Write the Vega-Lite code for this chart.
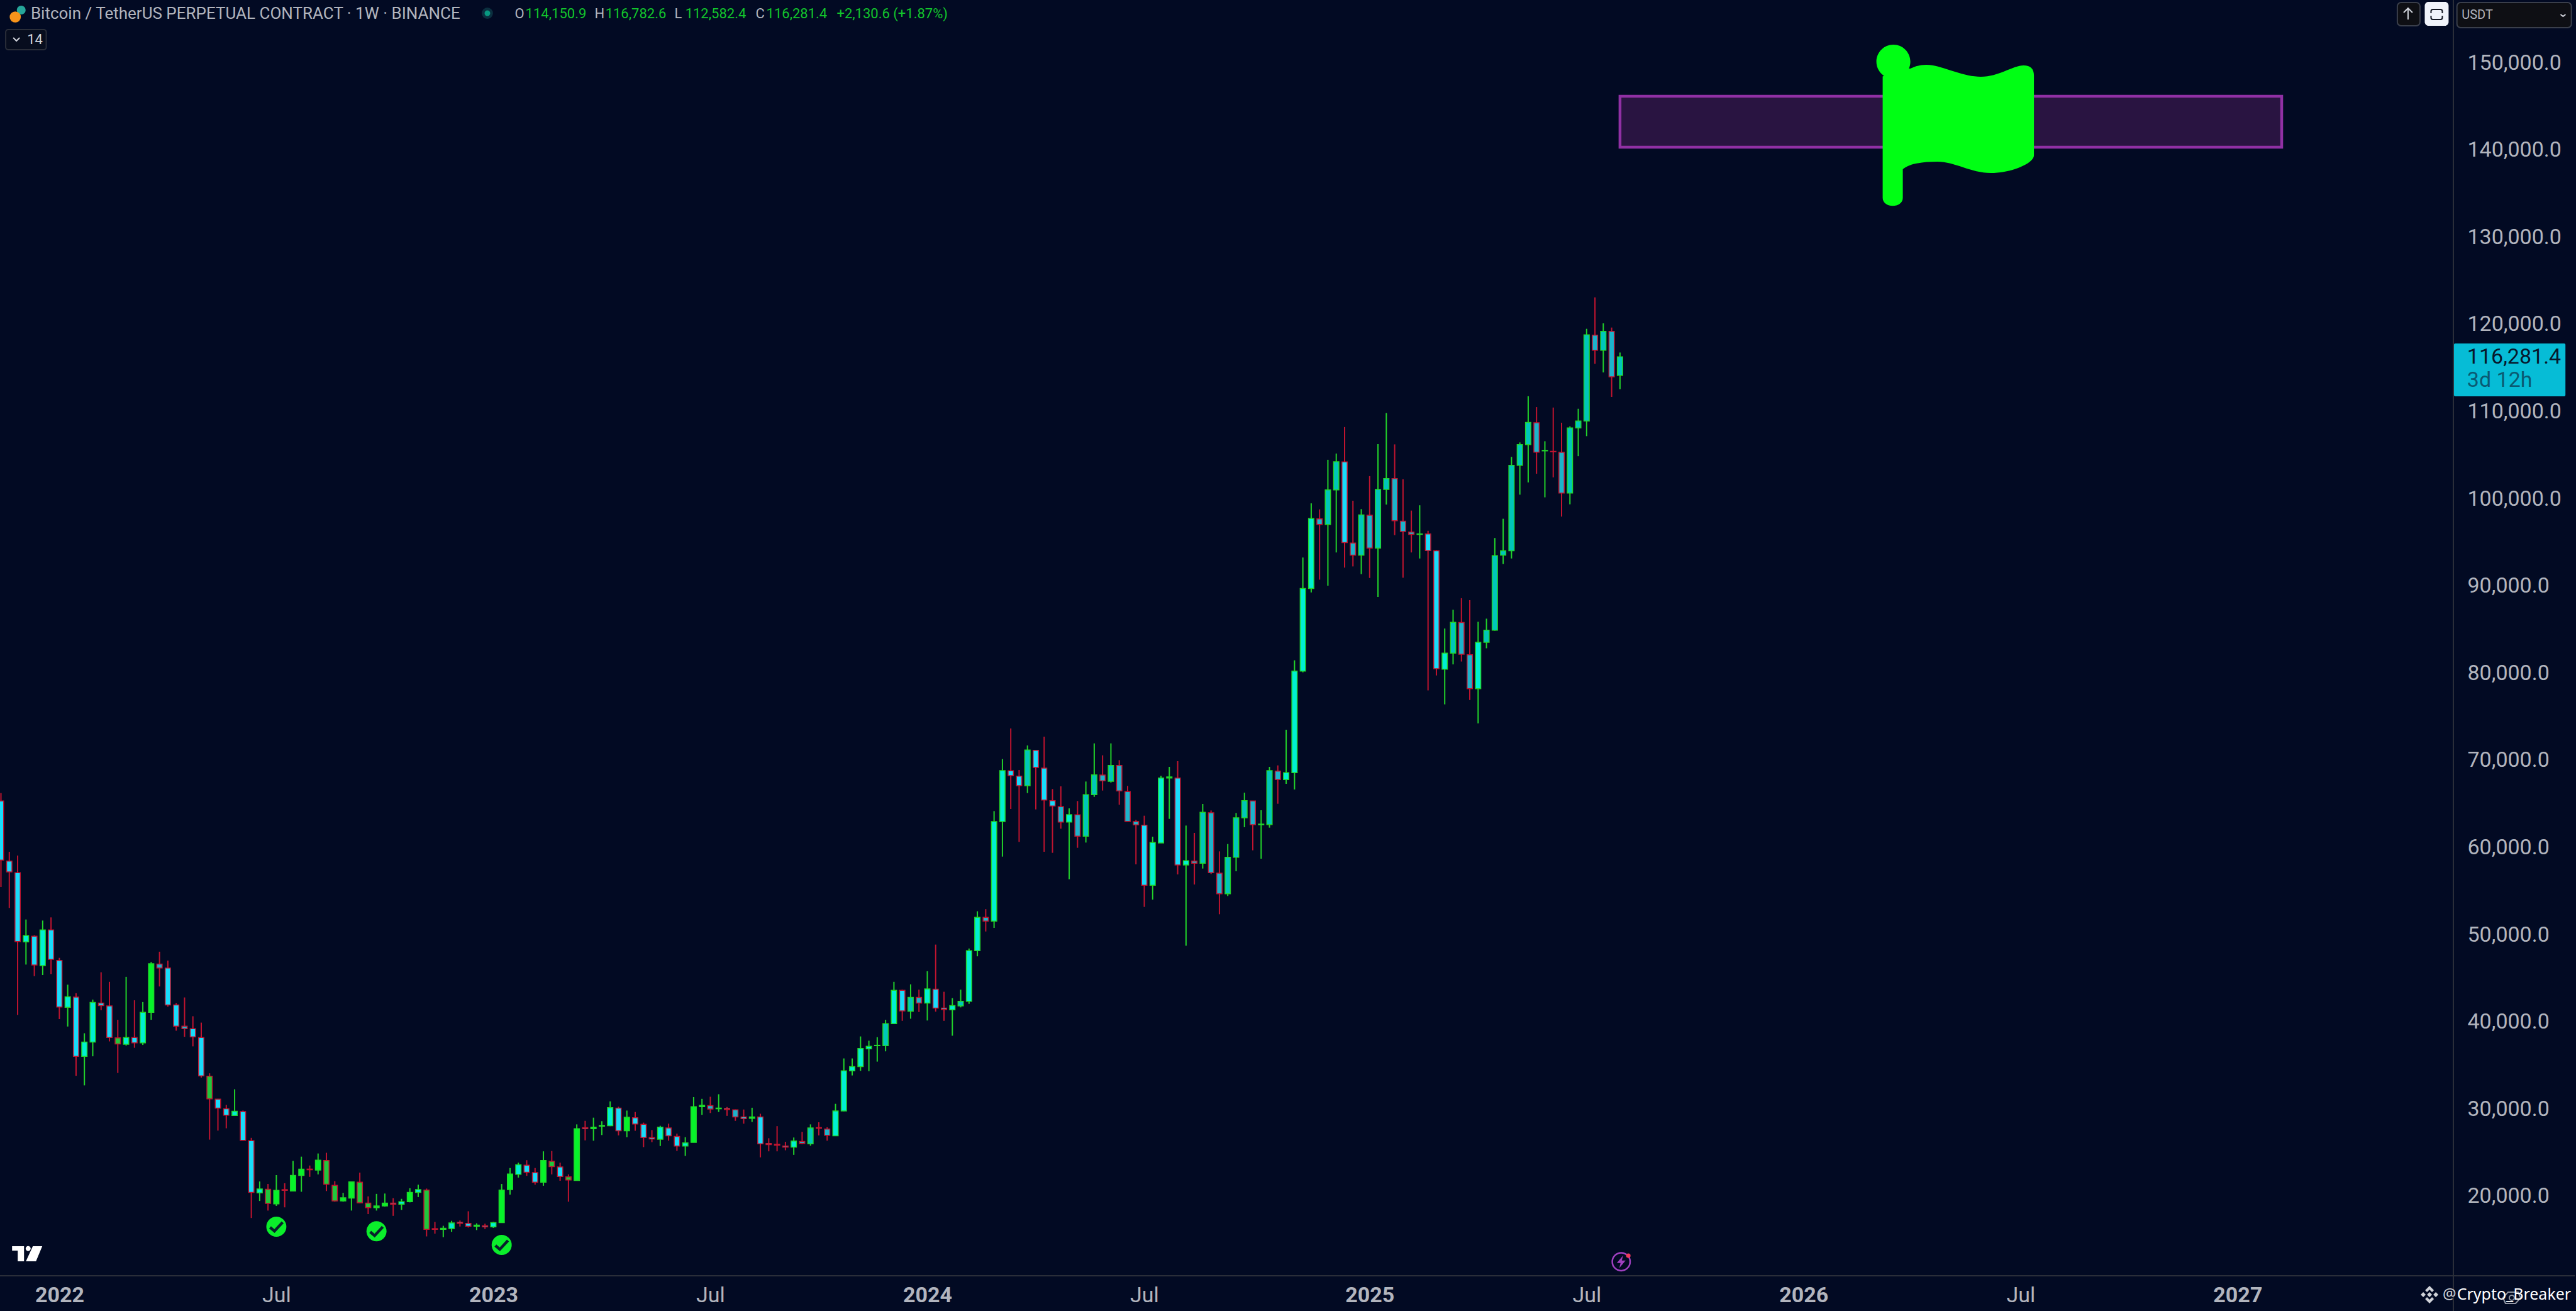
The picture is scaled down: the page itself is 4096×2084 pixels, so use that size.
{
  "$schema": "https://vega.github.io/schema/vega-lite/v6.json",
  "width": 3901,
  "height": 2028,
  "autosize": {"type": "none"},
  "padding": {"left": 0, "top": 0, "right": 195, "bottom": 56},
  "background": "#020a23",
  "config": {
    "view": {"stroke": null},
    "text": {"font": "Roboto", "align": "left", "baseline": "middle"},
    "axisY": {
      "orient": "right",
      "format": ",.1f",
      "labelFont": "Roboto",
      "labelFontSize": 34,
      "labelColor": "#b2b5be",
      "labelPadding": 22,
      "labelAlign": "left",
      "labelBaseline": "middle",
      "labelOverlap": false,
      "labelFlush": false,
      "grid": false,
      "ticks": false,
      "domain": false
    }
  },
  "data": {"values": [
    {"date":"2021-11-15","open":65345,"high":66259,"low":55484,"close":58562,"tone":"da"},
    {"date":"2021-11-22","open":58467,"high":59525,"low":53079,"close":57216,"tone":"da"},
    {"date":"2021-11-29","open":57120,"high":59092,"low":40814,"close":49231,"tone":"da"},
    {"date":"2021-12-06","open":49183,"high":51757,"low":46586,"close":49904,"tone":"ua"},
    {"date":"2021-12-13","open":49832,"high":49952,"low":45263,"close":46538,"tone":"da"},
    {"date":"2021-12-20","open":46466,"high":51636,"low":45383,"close":50554,"tone":"ua"},
    {"date":"2021-12-27","open":50554,"high":51997,"low":45504,"close":47187,"tone":"da"},
    {"date":"2022-01-03","open":47066,"high":47356,"low":40333,"close":41727,"tone":"da"},
    {"date":"2022-01-10","open":41678,"high":44281,"low":39482,"close":42899,"tone":"ua"},
    {"date":"2022-01-17","open":42858,"high":43304,"low":33829,"close":36066,"tone":"da"},
    {"date":"2022-01-24","open":36066,"high":38709,"low":32730,"close":37692,"tone":"ua"},
    {"date":"2022-01-31","open":37692,"high":42573,"low":36066,"close":42247,"tone":"ua"},
    {"date":"2022-02-07","open":42166,"high":45705,"low":41353,"close":41881,"tone":"da"},
    {"date":"2022-02-14","open":41841,"high":44606,"low":37774,"close":38221,"tone":"da"},
    {"date":"2022-02-21","open":38180,"high":40254,"low":34154,"close":37488,"tone":"dg"},
    {"date":"2022-02-28","open":37448,"high":45176,"low":37285,"close":38221,"tone":"ua"},
    {"date":"2022-03-07","open":38221,"high":42492,"low":37041,"close":37611,"tone":"da"},
    {"date":"2022-03-14","open":37611,"high":42288,"low":37367,"close":41109,"tone":"ua"},
    {"date":"2022-03-21","open":41109,"high":46884,"low":40254,"close":46680,"tone":"ug"},
    {"date":"2022-03-28","open":46640,"high":48063,"low":44077,"close":46192,"tone":"db"},
    {"date":"2022-04-04","open":46192,"high":47046,"low":41759,"close":41963,"tone":"da"},
    {"date":"2022-04-11","open":41963,"high":42166,"low":39001,"close":39523,"tone":"da"},
    {"date":"2022-04-18","open":39523,"high":42817,"low":38302,"close":39238,"tone":"db"},
    {"date":"2022-04-25","open":39238,"high":40661,"low":37204,"close":38302,"tone":"da"},
    {"date":"2022-05-02","open":38221,"high":39930,"low":33626,"close":33829,"tone":"da"},
    {"date":"2022-05-09","open":33788,"high":34113,"low":26508,"close":31185,"tone":"dg"},
    {"date":"2022-05-16","open":31145,"high":31185,"low":27542,"close":30128,"tone":"da"},
    {"date":"2022-05-23","open":30047,"high":30493,"low":27809,"close":29314,"tone":"da"},
    {"date":"2022-05-30","open":29273,"high":32283,"low":29273,"close":29761,"tone":"ua"},
    {"date":"2022-06-06","open":29720,"high":29842,"low":26426,"close":26426,"tone":"da"},
    {"date":"2022-06-13","open":26385,"high":26711,"low":17520,"close":20448,"tone":"da"},
    {"date":"2022-06-20","open":20408,"high":21710,"low":19473,"close":20855,"tone":"ua"},
    {"date":"2022-06-27","open":20814,"high":21425,"low":18373,"close":19187,"tone":"dg"},
    {"date":"2022-07-04","open":19147,"high":22441,"low":18904,"close":20692,"tone":"ug"},
    {"date":"2022-07-11","open":20774,"high":21506,"low":18741,"close":20692,"tone":"da"},
    {"date":"2022-07-18","open":20611,"high":24068,"low":20570,"close":22401,"tone":"ug"},
    {"date":"2022-07-25","open":22401,"high":24556,"low":20530,"close":23133,"tone":"ug"},
    {"date":"2022-08-01","open":23133,"high":23540,"low":22238,"close":23052,"tone":"da"},
    {"date":"2022-08-08","open":23011,"high":24921,"low":22523,"close":24150,"tone":"ug"},
    {"date":"2022-08-15","open":24109,"high":25003,"low":20611,"close":21384,"tone":"dg"},
    {"date":"2022-08-22","open":21262,"high":21750,"low":19392,"close":19473,"tone":"dg"},
    {"date":"2022-08-29","open":19473,"high":20408,"low":19392,"close":19839,"tone":"ug"},
    {"date":"2022-09-05","open":19798,"high":21669,"low":18373,"close":21669,"tone":"ug"},
    {"date":"2022-09-12","open":21628,"high":22726,"low":19229,"close":19269,"tone":"dg"},
    {"date":"2022-09-19","open":19229,"high":20001,"low":17967,"close":18699,"tone":"dg"},
    {"date":"2022-09-26","open":18699,"high":20286,"low":18373,"close":18904,"tone":"ug"},
    {"date":"2022-10-03","open":18904,"high":20326,"low":18822,"close":19229,"tone":"ug"},
    {"date":"2022-10-10","open":19229,"high":19798,"low":17764,"close":19106,"tone":"da"},
    {"date":"2022-10-17","open":19106,"high":19717,"low":18455,"close":19392,"tone":"ua"},
    {"date":"2022-10-24","open":19392,"high":20936,"low":19310,"close":20448,"tone":"ug"},
    {"date":"2022-10-31","open":20448,"high":21343,"low":19920,"close":20774,"tone":"ua"},
    {"date":"2022-11-07","open":20733,"high":20896,"low":15406,"close":16218,"tone":"dg"},
    {"date":"2022-11-14","open":16300,"high":17072,"low":15731,"close":16218,"tone":"da"},
    {"date":"2022-11-21","open":16218,"high":16625,"low":15325,"close":16341,"tone":"ug"},
    {"date":"2022-11-28","open":16300,"high":17194,"low":15934,"close":16950,"tone":"ua"},
    {"date":"2022-12-05","open":17031,"high":17235,"low":16544,"close":16910,"tone":"da"},
    {"date":"2022-12-12","open":16910,"high":18292,"low":16422,"close":16585,"tone":"da"},
    {"date":"2022-12-19","open":16585,"high":16910,"low":16137,"close":16707,"tone":"ug"},
    {"date":"2022-12-26","open":16625,"high":16869,"low":16259,"close":16503,"tone":"da"},
    {"date":"2023-01-02","open":16503,"high":17072,"low":16381,"close":16991,"tone":"ua"},
    {"date":"2023-01-09","open":16991,"high":21425,"low":16991,"close":20733,"tone":"ug"},
    {"date":"2023-01-16","open":20774,"high":23255,"low":20204,"close":22563,"tone":"ug"},
    {"date":"2023-01-23","open":22523,"high":23865,"low":22157,"close":23621,"tone":"ua"},
    {"date":"2023-01-30","open":23581,"high":24150,"low":22360,"close":22767,"tone":"da"},
    {"date":"2023-02-06","open":22726,"high":23255,"low":21344,"close":21628,"tone":"da"},
    {"date":"2023-02-13","open":21628,"high":25166,"low":21222,"close":24109,"tone":"ug"},
    {"date":"2023-02-20","open":24028,"high":25207,"low":22523,"close":23418,"tone":"dg"},
    {"date":"2023-02-27","open":23377,"high":23865,"low":21791,"close":22279,"tone":"da"},
    {"date":"2023-03-06","open":22238,"high":22523,"low":19392,"close":21872,"tone":"dg"},
    {"date":"2023-03-13","open":21832,"high":28257,"low":21791,"close":27769,"tone":"ug"},
    {"date":"2023-03-20","open":27891,"high":28663,"low":26426,"close":27769,"tone":"da"},
    {"date":"2023-03-27","open":27769,"high":29029,"low":26385,"close":27932,"tone":"ug"},
    {"date":"2023-04-03","open":28053,"high":28623,"low":27037,"close":28135,"tone":"ug"},
    {"date":"2023-04-10","open":28094,"high":30900,"low":28053,"close":30169,"tone":"ua"},
    {"date":"2023-04-17","open":30128,"high":30290,"low":26996,"close":27525,"tone":"da"},
    {"date":"2023-04-24","open":27525,"high":29842,"low":26793,"close":29070,"tone":"ug"},
    {"date":"2023-05-01","open":29029,"high":29680,"low":27525,"close":28297,"tone":"da"},
    {"date":"2023-05-08","open":28257,"high":28460,"low":25654,"close":26752,"tone":"da"},
    {"date":"2023-05-15","open":26752,"high":27606,"low":26223,"close":26589,"tone":"da"},
    {"date":"2023-05-22","open":26548,"high":28094,"low":25776,"close":27932,"tone":"ua"},
    {"date":"2023-05-29","open":27850,"high":28338,"low":26386,"close":26955,"tone":"da"},
    {"date":"2023-06-05","open":26874,"high":27199,"low":25207,"close":25776,"tone":"da"},
    {"date":"2023-06-12","open":25776,"high":26792,"low":24638,"close":26142,"tone":"ua"},
    {"date":"2023-06-19","open":26182,"high":31388,"low":26182,"close":30290,"tone":"ug"},
    {"date":"2023-06-26","open":30290,"high":31185,"low":29355,"close":30453,"tone":"ug"},
    {"date":"2023-07-03","open":30412,"high":31429,"low":29558,"close":30006,"tone":"db"},
    {"date":"2023-07-10","open":30047,"high":31714,"low":29680,"close":30128,"tone":"ug"},
    {"date":"2023-07-17","open":30087,"high":30250,"low":29233,"close":29965,"tone":"da"},
    {"date":"2023-07-24","open":29924,"high":29965,"low":28663,"close":29111,"tone":"db"},
    {"date":"2023-07-31","open":29111,"high":29965,"low":28338,"close":28907,"tone":"da"},
    {"date":"2023-08-07","open":28948,"high":30169,"low":28541,"close":29111,"tone":"ug"},
    {"date":"2023-08-14","open":29111,"high":29477,"low":24475,"close":26020,"tone":"da"},
    {"date":"2023-08-21","open":26060,"high":26670,"low":25166,"close":25939,"tone":"da"},
    {"date":"2023-08-28","open":25980,"high":28053,"low":25166,"close":25858,"tone":"da"},
    {"date":"2023-09-04","open":25776,"high":26263,"low":25288,"close":25654,"tone":"da"},
    {"date":"2023-09-11","open":25654,"high":26752,"low":24760,"close":26345,"tone":"ua"},
    {"date":"2023-09-18","open":26304,"high":27403,"low":25980,"close":26060,"tone":"db"},
    {"date":"2023-09-25","open":26020,"high":28257,"low":25817,"close":27850,"tone":"ut"},
    {"date":"2023-10-02","open":27891,"high":28501,"low":26996,"close":27810,"tone":"da"},
    {"date":"2023-10-09","open":27728,"high":27932,"low":26386,"close":26996,"tone":"db"},
    {"date":"2023-10-16","open":26955,"high":30616,"low":26914,"close":29802,"tone":"ua"},
    {"date":"2023-10-23","open":29802,"high":35821,"low":29761,"close":34398,"tone":"ua"},
    {"date":"2023-10-30","open":34398,"high":35821,"low":33869,"close":34886,"tone":"ua"},
    {"date":"2023-11-06","open":34886,"high":38343,"low":34398,"close":36961,"tone":"ua"},
    {"date":"2023-11-13","open":36920,"high":37855,"low":34357,"close":37204,"tone":"ua"},
    {"date":"2023-11-20","open":37285,"high":38262,"low":35456,"close":37326,"tone":"ug"},
    {"date":"2023-11-27","open":37285,"high":40254,"low":36635,"close":39807,"tone":"ut"},
    {"date":"2023-12-04","open":39807,"high":44606,"low":39766,"close":43630,"tone":"ua"},
    {"date":"2023-12-11","open":43630,"high":43711,"low":40132,"close":41272,"tone":"da"},
    {"date":"2023-12-18","open":41231,"high":44321,"low":40376,"close":42817,"tone":"ut"},
    {"date":"2023-12-25","open":42817,"high":43711,"low":41149,"close":42166,"tone":"db"},
    {"date":"2024-01-01","open":42166,"high":45826,"low":40173,"close":43793,"tone":"ua"},
    {"date":"2024-01-08","open":43752,"high":48876,"low":41190,"close":41597,"tone":"da"},
    {"date":"2024-01-15","open":41597,"high":43467,"low":40132,"close":41434,"tone":"da"},
    {"date":"2024-01-22","open":41394,"high":42736,"low":38425,"close":41882,"tone":"ua"},
    {"date":"2024-01-29","open":41841,"high":43711,"low":41678,"close":42370,"tone":"ut"},
    {"date":"2024-02-05","open":42370,"high":48429,"low":42085,"close":48185,"tone":"ua"},
    {"date":"2024-02-12","open":48185,"high":52700,"low":47535,"close":52008,"tone":"ua"},
    {"date":"2024-02-19","open":52008,"high":52944,"low":50382,"close":51561,"tone":"db"},
    {"date":"2024-02-26","open":51561,"high":64189,"low":50793,"close":62987,"tone":"ua"},
    {"date":"2024-03-04","open":62987,"high":70153,"low":58970,"close":68831,"tone":"ua"},
    {"date":"2024-03-11","open":68806,"high":73665,"low":64430,"close":68254,"tone":"da"},
    {"date":"2024-03-18","open":68206,"high":68903,"low":60654,"close":67099,"tone":"da"},
    {"date":"2024-03-25","open":67099,"high":71717,"low":66258,"close":71188,"tone":"ut"},
    {"date":"2024-04-01","open":71164,"high":71188,"low":64382,"close":69192,"tone":"da"},
    {"date":"2024-04-08","open":69119,"high":72727,"low":59523,"close":65464,"tone":"da"},
    {"date":"2024-04-15","open":65392,"high":66715,"low":59403,"close":64766,"tone":"da"},
    {"date":"2024-04-22","open":64694,"high":67027,"low":62169,"close":62938,"tone":"db"},
    {"date":"2024-04-29","open":62938,"high":64502,"low":56373,"close":63780,"tone":"ua"},
    {"date":"2024-05-06","open":63757,"high":65343,"low":59980,"close":61303,"tone":"db"},
    {"date":"2024-05-13","open":61303,"high":67580,"low":60581,"close":66065,"tone":"ut"},
    {"date":"2024-05-20","open":66065,"high":71957,"low":65824,"close":68350,"tone":"ut"},
    {"date":"2024-05-27","open":68326,"high":70586,"low":66546,"close":67652,"tone":"db"},
    {"date":"2024-06-03","open":67604,"high":71957,"low":67460,"close":69432,"tone":"ut"},
    {"date":"2024-06-10","open":69432,"high":70033,"low":64911,"close":66498,"tone":"db"},
    {"date":"2024-06-17","open":66426,"high":67075,"low":62987,"close":63011,"tone":"db"},
    {"date":"2024-06-24","open":62987,"high":63179,"low":58080,"close":62602,"tone":"db"},
    {"date":"2024-07-01","open":62578,"high":63660,"low":53198,"close":55675,"tone":"da"},
    {"date":"2024-07-08","open":55675,"high":61255,"low":54040,"close":60582,"tone":"ua"},
    {"date":"2024-07-15","open":60534,"high":68230,"low":60534,"close":67989,"tone":"ua"},
    {"date":"2024-07-22","open":67989,"high":69264,"low":63299,"close":68110,"tone":"ug"},
    {"date":"2024-07-29","open":67989,"high":69913,"low":56926,"close":58008,"tone":"da"},
    {"date":"2024-08-05","open":58008,"high":62530,"low":48749,"close":58489,"tone":"ua"},
    {"date":"2024-08-12","open":58465,"high":61688,"low":55772,"close":58201,"tone":"db"},
    {"date":"2024-08-19","open":58201,"high":65007,"low":57600,"close":64045,"tone":"ut"},
    {"date":"2024-08-26","open":63997,"high":64261,"low":56974,"close":57119,"tone":"db"},
    {"date":"2024-09-02","open":57071,"high":59572,"low":52357,"close":54713,"tone":"db"},
    {"date":"2024-09-09","open":54713,"high":60413,"low":54449,"close":58898,"tone":"ut"},
    {"date":"2024-09-16","open":58898,"high":63973,"low":57287,"close":63419,"tone":"ut"},
    {"date":"2024-09-23","open":63419,"high":66305,"low":62338,"close":65392,"tone":"ut"},
    {"date":"2024-09-30","open":65343,"high":65368,"low":59692,"close":62626,"tone":"db"},
    {"date":"2024-10-07","open":62626,"high":64285,"low":58730,"close":62698,"tone":"ug"},
    {"date":"2024-10-14","open":62650,"high":69264,"low":62290,"close":68831,"tone":"ut"},
    {"date":"2024-10-21","open":68783,"high":69432,"low":65031,"close":67797,"tone":"db"},
    {"date":"2024-10-28","open":67797,"high":73521,"low":67315,"close":68590,"tone":"ua"},
    {"date":"2024-11-04","open":68590,"high":81483,"low":66666,"close":80255,"tone":"ua"},
    {"date":"2024-11-11","open":80241,"high":93272,"low":80102,"close":89711,"tone":"ua"},
    {"date":"2024-11-18","open":89711,"high":99485,"low":89269,"close":97746,"tone":"ua"},
    {"date":"2024-11-25","open":97718,"high":98795,"low":90733,"close":97055,"tone":"db"},
    {"date":"2024-12-02","open":97055,"high":104482,"low":90042,"close":101031,"tone":"ut"},
    {"date":"2024-12-09","open":101031,"high":105200,"low":93852,"close":104261,"tone":"ut"},
    {"date":"2024-12-16","open":104234,"high":108237,"low":92113,"close":94984,"tone":"da"},
    {"date":"2024-12-23","open":94929,"high":99789,"low":92251,"close":93549,"tone":"db"},
    {"date":"2024-12-30","open":93549,"high":98822,"low":91368,"close":98159,"tone":"ut"},
    {"date":"2025-01-06","open":98132,"high":102605,"low":90926,"close":94349,"tone":"db"},
    {"date":"2025-01-13","open":94349,"high":106277,"low":88745,"close":101086,"tone":"ut"},
    {"date":"2025-01-20","open":101086,"high":109839,"low":99347,"close":102329,"tone":"ut"},
    {"date":"2025-01-27","open":102329,"high":106249,"low":95840,"close":97497,"tone":"db"},
    {"date":"2025-02-03","open":97442,"high":102246,"low":90954,"close":96255,"tone":"db"},
    {"date":"2025-02-10","open":96200,"high":98657,"low":93852,"close":95923,"tone":"db"},
    {"date":"2025-02-17","open":95923,"high":99264,"low":93162,"close":95979,"tone":"ug"},
    {"date":"2025-02-24","open":95979,"high":96337,"low":78032,"close":94073,"tone":"da"},
    {"date":"2025-03-03","open":94046,"high":94129,"low":79745,"close":80517,"tone":"da"},
    {"date":"2025-03-10","open":80461,"high":85128,"low":76431,"close":82312,"tone":"ua"},
    {"date":"2025-03-17","open":82312,"high":87281,"low":81014,"close":85846,"tone":"ut"},
    {"date":"2025-03-24","open":85818,"high":88607,"low":81345,"close":82174,"tone":"db"},
    {"date":"2025-03-31","open":82118,"high":88386,"low":76927,"close":78226,"tone":"db"},
    {"date":"2025-04-07","open":78226,"high":85901,"low":74250,"close":83554,"tone":"ua"},
    {"date":"2025-04-14","open":83554,"high":86260,"low":82864,"close":84934,"tone":"ut"},
    {"date":"2025-04-21","open":84934,"high":95509,"low":84879,"close":93494,"tone":"ut"},
    {"date":"2025-04-28","open":93549,"high":97718,"low":92527,"close":94046,"tone":"ut"},
    {"date":"2025-05-05","open":94046,"high":104814,"low":93162,"close":103847,"tone":"ut"},
    {"date":"2025-05-12","open":103847,"high":106470,"low":100479,"close":106222,"tone":"ut"},
    {"date":"2025-05-19","open":106222,"high":111771,"low":101887,"close":108762,"tone":"ut"},
    {"date":"2025-05-26","open":108734,"high":110529,"low":102881,"close":105366,"tone":"db"},
    {"date":"2025-06-02","open":105504,"high":106608,"low":100175,"close":105559,"tone":"ug"},
    {"date":"2025-06-09","open":105449,"high":110474,"low":102467,"close":105394,"tone":"da"},
    {"date":"2025-06-16","open":105338,"high":108734,"low":97966,"close":100672,"tone":"db"},
    {"date":"2025-06-23","open":100672,"high":108320,"low":99374,"close":108127,"tone":"ut"},
    {"date":"2025-06-30","open":108127,"high":110336,"low":104896,"close":108928,"tone":"ut"},
    {"date":"2025-07-07","open":108922,"high":119504,"low":107190,"close":118807,"tone":"ut"},
    {"date":"2025-07-14","open":118783,"high":123112,"low":115488,"close":117051,"tone":"db"},
    {"date":"2025-07-21","open":117051,"high":120129,"low":114502,"close":119215,"tone":"ut"},
    {"date":"2025-07-28","open":119215,"high":119648,"low":111688,"close":113997,"tone":"db"},
    {"date":"2025-08-04","open":114150.9,"high":116782.6,"low":112582.4,"close":116281.4,"tone":"ut"}
  ]},
  "encoding": {
    "x": {
      "field": "date",
      "type": "temporal",
      "title": null,
      "scale": {"domain": [{"year": 2021, "month": 11, "date": 14, "hours": 5}, {"year": 2027, "month": 7, "date": 4}], "nice": false, "padding": 0},
      "axis": {
        "values": [
          {"year": 2022, "month": 1, "date": 3}, {"year": 2022, "month": 7, "date": 4},
          {"year": 2023, "month": 1, "date": 2}, {"year": 2023, "month": 7, "date": 3},
          {"year": 2024, "month": 1, "date": 1}, {"year": 2024, "month": 7, "date": 1},
          {"year": 2025, "month": 1, "date": 6}, {"year": 2025, "month": 7, "date": 7},
          {"year": 2026, "month": 1, "date": 5}, {"year": 2026, "month": 7, "date": 6},
          {"year": 2027, "month": 1, "date": 4}
        ],
        "labelExpr": "month(datum.value) == 0 ? timeFormat(datum.value, '%Y') : 'Jul'",
        "labelFontWeight": {"condition": {"test": "month(datum.value) == 0", "value": "bold"}, "value": "normal"},
        "labelFont": "Roboto",
        "labelFontSize": 34,
        "labelColor": "#b2b5be",
        "labelPadding": 31,
        "labelBaseline": "middle",
        "labelOverlap": false,
        "labelFlush": false,
        "grid": false,
        "ticks": false,
        "domain": false
      }
    },
    "y": {
      "field": "price",
      "type": "quantitative",
      "title": null,
      "scale": {"domain": [10895, 157215], "nice": false, "zero": false, "padding": 0},
      "axis": {"orient": "right", "values": [20000, 30000, 40000, 50000, 60000, 70000, 80000, 90000, 100000, 110000, 120000, 130000, 140000, 150000]}
    }
  },
  "layer": [
    {
      "mark": {"type": "rule", "strokeWidth": 2},
      "encoding": {
        "y": {
          "field": "low",
          "type": "quantitative",
          "title": null,
          "scale": {"domain": [10895, 157215], "nice": false, "zero": false, "padding": 0},
          "axis": {"orient": "right", "values": [20000, 30000, 40000, 50000, 60000, 70000, 80000, 90000, 100000, 110000, 120000, 130000, 140000, 150000]}
        },
        "y2": {"field": "high"},
        "stroke": {
          "field": "tone",
          "type": "nominal",
          "legend": null,
          "scale": {"domain": ["ug", "ua", "ut", "da", "db", "dg"], "range": ["#22d42a", "#22d42a", "#22d42a", "#c0142f", "#c0142f", "#c0142f"]}
        }
      }
    },
    {
      "mark": {"type": "bar", "size": 8.5, "strokeWidth": 1.5},
      "encoding": {
        "y": {
          "field": "open",
          "type": "quantitative",
          "title": null,
          "scale": {"domain": [10895, 157215], "nice": false, "zero": false, "padding": 0},
          "axis": {"orient": "right", "values": [20000, 30000, 40000, 50000, 60000, 70000, 80000, 90000, 100000, 110000, 120000, 130000, 140000, 150000]}
        },
        "y2": {"field": "close"},
        "fill": {
          "field": "tone",
          "type": "nominal",
          "legend": null,
          "scale": {"domain": ["ug", "ua", "ut", "da", "db", "dg"], "range": ["#06f32a", "#00efd2", "#00c6ba", "#18dcfb", "#1cb4cc", "#1fc83c"]}
        },
        "stroke": {
          "field": "tone",
          "type": "nominal",
          "legend": null,
          "scale": {"domain": ["ug", "ua", "ut", "da", "db", "dg"], "range": ["#22d42a", "#22d42a", "#22d42a", "#c0142f", "#c0142f", "#c0142f"]}
        }
      }
    },
    {
      "data": {"values": [{"date": "2025-08-04", "date2": "2027-02-10", "price": 146176, "price2": 140332}]},
      "mark": {"type": "rect", "fill": "#291441", "stroke": "#9030a4", "strokeWidth": 4.5},
      "encoding": {"x2": {"field": "date2"}, "y2": {"field": "price2"}}
    },
    {
      "data": {"values": [{"date": "2026-05-12", "price": 142821}]},
      "mark": {
        "type": "point",
        "filled": true,
        "opacity": 1,
        "size": 4,
        "color": "#00ff14",
        "shape": "M-125,-101.5A27,27 0 1,1 -71,-101.5A27,27 0 1,1 -125,-101.5ZM-115,-78L-83,-90.5L-71,-90.5C-60,-96 -48,-98 -35,-95.5C-15,-92 15,-77.5 41,-77.5C70,-77.5 92,-95.5 109,-95.5C120,-95.5 125.5,-90 125.5,-79.5L125.5,47.5C125.5,60 90,75.5 57,75.5C25,75.5 0,57.5 -28,57.5C-50,57.5 -72,60 -83,69.5L-83,115C-83,132 -115,132 -115,115Z"
      },
      "encoding": {}
    },
    {
      "data": {"values": [
        {"date": "2022-07-04", "price": 16523},
        {"date": "2022-09-26", "price": 16000},
        {"date": "2023-01-09", "price": 14430}
      ]},
      "layer": [
        {"mark": {"type": "point", "shape": "circle", "filled": true, "opacity": 1, "size": 1018, "color": "#0bee2b"}, "encoding": {}},
        {"mark": {"type": "point", "filled": false, "opacity": 1, "size": 4, "stroke": "#08202c", "strokeWidth": 4.5, "shape": "M-10,1L-3,7L10,-7"}, "encoding": {}}
      ]
    },
    {
      "data": {"values": [{"date": "2021-12-07", "price": 13420}]},
      "mark": {
        "type": "point", "filled": true, "opacity": 1, "size": 4, "color": "#ffffff",
        "shape": "M-24,-12H-5V12H-15V-5H-24ZM5.6,-8.3A4,4 0 1,1 -2.4,-8.3A4,4 0 1,1 5.6,-8.3ZM9,-12H24L14,12H-2Z"
      },
      "encoding": {}
    },
    {
      "data": {"values": [{"date": "2025-08-05", "price": 12504}]},
      "layer": [
        {"mark": {"type": "point", "shape": "circle", "filled": false, "opacity": 1, "size": 804, "stroke": "#a040c0", "strokeWidth": 2.5}, "encoding": {}},
        {"mark": {"type": "point", "filled": true, "opacity": 1, "size": 4, "color": "#a040c0", "shape": "M3,-10L-7,2H-1L-3,10L7,-2H1Z"}, "encoding": {}}
      ]
    },
    {
      "data": {"values": [{"date": "2025-08-11", "price": 13204}]},
      "mark": {"type": "point", "shape": "circle", "filled": true, "opacity": 1, "size": 50, "color": "#f03a5a"},
      "encoding": {}
    },
    {
      "data": {"values": [{"date": "2021-11-14T05:00:00", "date2": "2027-10-14", "price": 10895}]},
      "mark": {"type": "rule", "stroke": "#2a2e39", "strokeWidth": 2},
      "encoding": {"x2": {"field": "date2"}}
    },
    {
      "data": {"values": [{"date": "2027-07-04", "price": 157215, "price2": 6854}]},
      "mark": {"type": "rule", "stroke": "#2a2e39", "strokeWidth": 2},
      "encoding": {"y2": {"field": "price2"}}
    },
    {
      "data": {"values": [{"date": "2027-07-04T12:00:00", "date2": "2027-10-06", "price": 117821, "price2": 111761}]},
      "mark": {"type": "rect", "fill": "#06bcd6", "cornerRadius": 2},
      "encoding": {"x2": {"field": "date2"}, "y2": {"field": "price2"}}
    },
    {
      "data": {"values": [{"date": "2027-07-15T12:00:00", "price": 116234, "label": "116,281.4"}]},
      "mark": {"type": "text", "fontSize": 34, "color": "#06182c"},
      "encoding": {"text": {"field": "label"}}
    },
    {
      "data": {"values": [{"date": "2027-07-15T12:00:00", "price": 113563, "label": "3d 12h"}]},
      "mark": {"type": "text", "fontSize": 34, "color": "#0a5a72"},
      "encoding": {"text": {"field": "label"}}
    },
    {
      "data": {"values": [{"date": "2021-12-10", "price": 155628, "label": "Bitcoin / TetherUS PERPETUAL CONTRACT · 1W · BINANCE"}]},
      "mark": {"type": "text", "fontSize": 26, "color": "#b2b5be"},
      "encoding": {"text": {"field": "label"}}
    },
    {
      "data": {"values": [
        {"date": "2023-01-20", "price": 155628, "label": "O"},
        {"date": "2023-03-28", "price": 155628, "label": "H"},
        {"date": "2023-06-03", "price": 155628, "label": "L"},
        {"date": "2023-08-10", "price": 155628, "label": "C"}
      ]},
      "mark": {"type": "text", "fontSize": 22, "color": "#b2b5be"},
      "encoding": {"text": {"field": "label"}}
    },
    {
      "data": {"values": [
        {"date": "2023-01-29", "price": 155628, "label": "114,150.9"},
        {"date": "2023-04-06", "price": 155628, "label": "116,782.6"},
        {"date": "2023-06-12", "price": 155628, "label": "112,582.4"},
        {"date": "2023-08-19", "price": 155628, "label": "116,281.4"},
        {"date": "2023-10-17", "price": 155628, "label": "+2,130.6 (+1.87%)"}
      ]},
      "mark": {"type": "text", "fontSize": 22, "color": "#12c42c"},
      "encoding": {"text": {"field": "label"}}
    },
    {
      "data": {"values": [{"date": "2021-12-02", "price": 156060}]},
      "mark": {"type": "point", "shape": "circle", "filled": true, "opacity": 1, "size": 200, "color": "#26a69a"},
      "encoding": {}
    },
    {
      "data": {"values": [{"date": "2021-11-27", "price": 155267}]},
      "mark": {"type": "point", "shape": "circle", "filled": true, "opacity": 1, "size": 314, "color": "#f7931a"},
      "encoding": {}
    },
    {
      "data": {"values": [{"date": "2022-12-28", "price": 155700}]},
      "layer": [
        {"mark": {"type": "point", "shape": "circle", "filled": true, "opacity": 1, "size": 320, "color": "#0b2f3f"}, "encoding": {}},
        {"mark": {"type": "point", "shape": "circle", "filled": true, "opacity": 1, "size": 80, "color": "#089981"}, "encoding": {}}
      ]
    },
    {
      "data": {"values": [{"date": "2021-11-19", "date2": "2021-12-23", "price": 153824, "price2": 151515}]},
      "mark": {"type": "rect", "fill": "#070d1e", "stroke": "#2a2e39", "strokeWidth": 2, "cornerRadius": 4},
      "encoding": {"x2": {"field": "date2"}, "y2": {"field": "price2"}}
    },
    {
      "data": {"values": [{"date": "2021-12-07", "price": 152670, "label": "14"}]},
      "mark": {"type": "text", "fontSize": 22, "color": "#d1d4dc"},
      "encoding": {"text": {"field": "label"}}
    },
    {
      "data": {"values": [{"date": "2021-11-28", "price": 152740}]},
      "mark": {"type": "point", "filled": false, "opacity": 1, "size": 4, "stroke": "#d1d4dc", "strokeWidth": 2, "shape": "M-5,-2L0,3L5,-2"},
      "encoding": {}
    },
    {
      "data": {"values": [
        {"date": "2027-05-18", "date2": "2027-06-06", "price": 156926, "price2": 154257},
        {"date": "2027-07-07", "date2": "2027-10-11", "price": 156926, "price2": 154040}
      ]},
      "mark": {"type": "rect", "fill": "#0e0f14", "stroke": "#3a3f4b", "strokeWidth": 2, "cornerRadius": 6},
      "encoding": {"x2": {"field": "date2"}, "y2": {"field": "price2"}}
    },
    {
      "data": {"values": [{"date": "2027-06-10", "date2": "2027-06-30", "price": 157000, "price2": 154257}]},
      "mark": {"type": "rect", "fill": "#f0f3fa", "cornerRadius": 6},
      "encoding": {"x2": {"field": "date2"}, "y2": {"field": "price2"}}
    },
    {
      "data": {"values": [{"date": "2027-05-27", "price": 155628}]},
      "mark": {"type": "point", "filled": false, "opacity": 1, "size": 4, "stroke": "#d1d4dc", "strokeWidth": 2, "shape": "M0,9V-9M-7,-2L0,-9L7,-2"},
      "encoding": {}
    },
    {
      "data": {"values": [{"date": "2027-06-20", "price": 155555}]},
      "mark": {"type": "point", "filled": false, "opacity": 1, "size": 4, "stroke": "#131722", "strokeWidth": 2, "shape": "M-9,-2V-5Q-9,-8 -6,-8H6Q9,-8 9,-5V-2M-9,2V5Q-9,8 -6,8H6Q9,8 9,5V2"},
      "encoding": {}
    },
    {
      "data": {"values": [{"date": "2027-07-11", "price": 155483, "label": "USDT"}]},
      "mark": {"type": "text", "fontSize": 20, "color": "#b2b5be"},
      "encoding": {"text": {"field": "label"}}
    },
    {
      "data": {"values": [{"date": "2027-10-04", "price": 155483}]},
      "mark": {"type": "point", "filled": false, "opacity": 1, "size": 4, "stroke": "#d1d4dc", "strokeWidth": 2, "shape": "M-4,-1L0,2L4,-1"},
      "encoding": {}
    },
    {
      "data": {"values": [{"date": "2027-06-14", "price": 8730}]},
      "mark": {
        "type": "point", "filled": true, "opacity": 1, "size": 4, "color": "#cfd2d8",
        "shape": "M0,-14L7,-7L4,-4L0,-8L-4,-4L-7,-7ZM0,14L7,7L4,4L0,8L-4,4L-7,7ZM-14,0L-10,-4L-6,0L-10,4ZM14,0L10,-4L6,0L10,4ZM0,-4L4,0L0,4L-4,0Z"
      },
      "encoding": {}
    },
    {
      "data": {"values": [{"date": "2027-08-22", "price": 8370}]},
      "mark": {"type": "point", "filled": false, "opacity": 0.7, "size": 4, "stroke": "#cfd2d8", "strokeWidth": 2, "shape": "M-14,0L-6,-9H10L14,0L6,9H-10ZM4,0A4,4 0 1,1 -4,0A4,4 0 1,1 4,0Z"},
      "encoding": {}
    },
    {
      "data": {"values": [{"date": "2027-06-25", "price": 8730, "label": "@"}]},
      "mark": {"type": "text", "font": "Noto Sans", "fontSize": 24, "color": "#cfd2d8"},
      "encoding": {"text": {"field": "label"}}
    },
    {
      "data": {"values": [{"date": "2027-07-07", "price": 8730, "label": "Crypto_Breaker"}]},
      "mark": {"type": "text", "font": "Noto Sans", "fontSize": 25, "color": "#ffffff"},
      "encoding": {"text": {"field": "label"}}
    }
  ]
}
